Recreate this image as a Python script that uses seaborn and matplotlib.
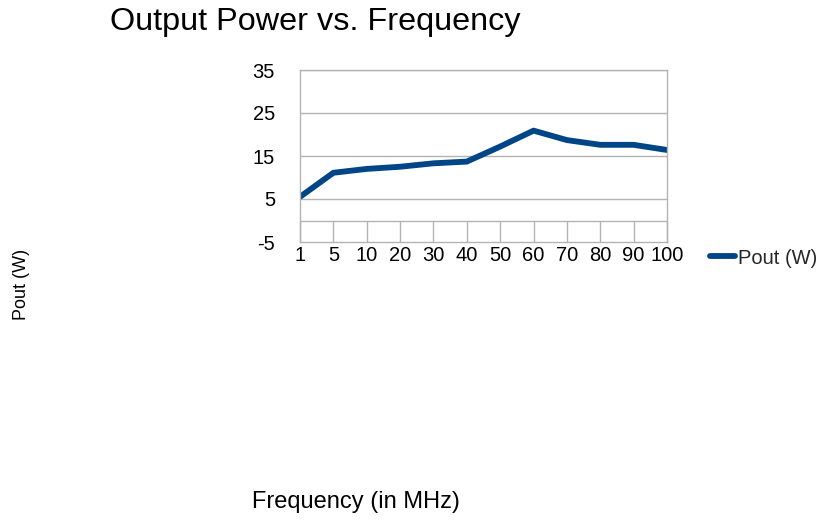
import matplotlib
matplotlib.use("Agg")
import matplotlib.pyplot as plt
import seaborn as sns
import pandas as pd

frequencies = ["1", "5", "10", "20", "30", "40", "50", "60", "70", "80", "90", "100"]
pout_w = [5.5, 11.1, 12.0, 12.5, 13.3, 13.7, 17.2, 20.9, 18.7, 17.6, 17.6, 16.4]
y_ticks = [-5, 5, 15, 25, 35]

sns.set_theme(style="white")
plt.rcParams["font.family"] = ["Liberation Sans", "DejaVu Sans"]

df = pd.DataFrame({"Frequency": frequencies, "Pout (W)": pout_w})

W, H = 826, 521
fig = plt.figure(figsize=(W / 100, H / 100), dpi=100)
ax = fig.add_axes([300 / W, 1 - 242 / H, (667 - 300) / W, (242 - 70) / H])

sns.lineplot(data=df, x="Frequency", y="Pout (W)", sort=False, ax=ax,
             color="#004586", linewidth=4.2, label="Pout (W)", legend=False)

grid_c = "#b3b3b3"
ax.set_xlim(0, len(frequencies) - 1)
ax.set_ylim(-5, 35)
ax.set_yticks(y_ticks)
ax.set_yticklabels([str(v) for v in y_ticks], fontsize=14.5, color="black")
ax.set_xticks(range(len(frequencies)))
ax.set_xticklabels(frequencies, fontsize=14.5, color="black")
for v in y_ticks[1:]:
    ax.axhline(v, color=grid_c, lw=1, zorder=0)
ax.axhline(0, color=grid_c, lw=1, zorder=0)
for i in range(len(frequencies)):
    ax.plot([i, i], [-5, 0], color=grid_c, lw=1, zorder=0, clip_on=False)
for s in ax.spines.values():
    s.set_color(grid_c)
    s.set_linewidth(1)
ax.tick_params(axis="x", length=0, pad=3)
ax.tick_params(axis="y", length=0, pad=18)
ax.set_xlabel("")
ax.set_ylabel("")

fig.text(110 / W, 1 - 22 / H, "Output Power vs. Frequency", fontsize=23.3,
         ha="left", va="center", color="black")
fig.text(21 / W, 1 - 284 / H, "Pout (W)", fontsize=13, rotation=90,
         ha="center", va="center", color="black")
fig.text(356 / W, 1 - 502 / H, "Frequency (in MHz)", fontsize=17,
         ha="center", va="center", color="black")

handles, labels = ax.get_legend_handles_labels()
fig.legend(handles, labels, loc="center left", bbox_to_anchor=(710 / W, 1 - 258 / H),
           frameon=False, fontsize=14.5, handlelength=1.25, handletextpad=0.15,
           borderaxespad=0, borderpad=0)

fig.savefig("out.png", dpi=100)
